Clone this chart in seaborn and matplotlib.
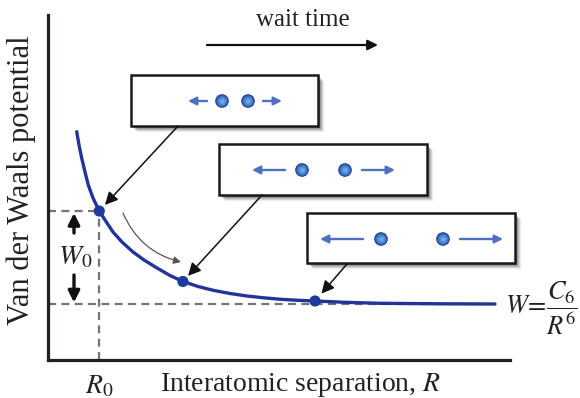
import numpy as np
import pandas as pd
import matplotlib
matplotlib.use("Agg")
import matplotlib.pyplot as plt
import matplotlib.colors as mcolors
from matplotlib.patches import Rectangle, Circle
import seaborn as sns

# ---- data (R, W in arbitrary units) ----
R_curve = [0.621, 0.671, 0.729, 0.801, 0.872, 0.974, 1.110, 1.234, 1.407, 1.602, 1.840,
           2.078, 2.359, 2.641, 2.922, 3.247, 3.571, 3.939, 4.307, 4.654, 5.022, 5.411,
           5.779, 6.429, 7.186, 8.485, 9.675]
W_curve = [3.446, 3.18, 2.92, 2.64, 2.38, 2.12, 1.86, 1.68, 1.44, 1.24, 1.04,
           0.88, 0.72, 0.57, 0.45, 0.35, 0.275, 0.21, 0.16, 0.125, 0.095, 0.074,
           0.06, 0.034, 0.014, 0.004, 0.0]
R_marked = [1.11, 2.92, 5.78]
W_marked = [1.86, 0.45, 0.06]
R0 = 1.11
W0 = 1.86
xlabel = "Interatomic separation, $R$"
ylabel = "Van der Waals potential"
time_label = "wait time"
formula = r"$W\!=\!\dfrac{C_6}{R^6}$"

sns.set_theme(style="white")
plt.rcParams["font.family"] = ["Liberation Serif", "DejaVu Serif"]
plt.rcParams["mathtext.fontset"] = "stix"

W_PX, H_PX = 580, 398
fig = plt.figure(figsize=(W_PX / 100, H_PX / 100), dpi=100)
fig.patch.set_facecolor("white")

ax = fig.add_axes([48 / W_PX, 1 - 360 / H_PX, (510 - 48) / W_PX, (360 - 15) / H_PX])
ax.set_xlim(0, 10)
ax.set_ylim(-1.12, 5.78)
ax.set_facecolor("none")
for s in ["top", "right"]:
    ax.spines[s].set_visible(False)
for s in ["left", "bottom"]:
    ax.spines[s].set_linewidth(2.3)
    ax.spines[s].set_color("#231f20")
ax.set_xticks([])
ax.set_yticks([])

dash = (0, (3.6, 2.4))
gray = "#767676"
ax.plot([0, 9.5], [0, 0], color=gray, lw=1.6, ls=dash, zorder=1)
ax.plot([0, R0], [W0, W0], color=gray, lw=1.6, ls=dash, zorder=1)
ax.plot([R0, R0], [-1.12, W0], color=gray, lw=1.6, ls=dash, zorder=1, clip_on=False)

curve = pd.DataFrame({"R": R_curve, "W": W_curve})
sns.lineplot(data=curve, x="R", y="W", ax=ax, color="#22349a", lw=2.4, zorder=3)
pts = pd.DataFrame({"R": R_marked, "W": W_marked})
sns.scatterplot(data=pts, x="R", y="W", ax=ax, color="#1f3a9e", s=65, edgecolor="none", zorder=4)
ax.set_xlabel("")
ax.set_ylabel("")

# W0 annotation
xa = (74 - 48) / 46.2
ax.annotate("", xy=(xa, W0 - 0.04), xytext=(xa, W0 - 0.44),
            arrowprops=dict(arrowstyle="-|>", lw=2.4, color="#111111", mutation_scale=17, shrinkA=0, shrinkB=0))
ax.annotate("", xy=(xa, 0.03), xytext=(xa, 0.58),
            arrowprops=dict(arrowstyle="-|>", lw=2.4, color="#111111", mutation_scale=17, shrinkA=0, shrinkB=0))
ax.text(xa + 0.03, 0.93, r"$W_0$", ha="center", va="center", fontsize=20, color="#222222")
ax.annotate(r"$R_0$", xy=(R0, 0), xycoords=("data", "axes fraction"), xytext=(0, -19),
            textcoords="offset points", ha="center", va="center", fontsize=20, color="#222222")

# labels
fig.text(301 / W_PX, 1 - 385 / H_PX, xlabel, ha="center", va="center", fontsize=20, color="#222222")
fig.text(21 / W_PX, 1 - 180 / H_PX, ylabel, ha="center", va="center", rotation=90, fontsize=22, color="#222222")

# overlay in pixel coords for the schematic parts
ov = fig.add_axes([0, 0, 1, 1], zorder=5)
ov.set_xlim(0, W_PX)
ov.set_ylim(H_PX, 0)
ov.axis("off")
ov.patch.set_alpha(0)

ov.text(303, 20, time_label, ha="center", va="center", fontsize=18, color="#222222")
ov.annotate("", xy=(378, 45), xytext=(207, 45),
            arrowprops=dict(arrowstyle="-|>", lw=1.6, color="#111111", mutation_scale=15, shrinkA=0, shrinkB=0))

boxes = [(131, 75, 318, 126), (219, 144, 427, 195), (307, 213, 515, 263)]
atoms = [((222, 248), 101), ((302, 345), 170), ((381, 443), 239)]
arrows = [((207, 188), (263, 282)), ((285, 252), (362, 395)), ((363, 320), (460, 503))]
tails = [(178, 126), (262, 195), (347, 264)]
blue_arrow = "#4f70c0"
c_dark = np.array(mcolors.to_rgb("#1a3a9a"))
c_light = np.array(mcolors.to_rgb("#6aaeea"))

for (x0, y0, x1, y1) in boxes:
    for off, a in [(6, 0.08), (5, 0.10), (4, 0.13), (3, 0.16), (2, 0.2)]:
        ov.add_patch(Rectangle((x0 + off, y0 + off), x1 - x0, y1 - y0, facecolor="#000000",
                               edgecolor="none", alpha=a, zorder=1))
    ov.add_patch(Rectangle((x0, y0), x1 - x0, y1 - y0, facecolor="white", edgecolor="#1a1a1a",
                           lw=1.8, zorder=2))

for (xs, y) in atoms:
    for x in xs:
        n = 10
        for k in range(n):
            t = k / (n - 1)
            col = c_dark * (1 - t ** 0.7) + c_light * t ** 0.7
            ov.add_patch(Circle((x + 0.5 * t, y + 0.5 * t), 6.8 * (1 - 0.8 * t), facecolor=col,
                                edgecolor="none", zorder=3 + k * 0.01))

for (l, r), (xs, y) in zip(arrows, atoms):
    for (a, b) in [l, r]:
        ov.annotate("", xy=(b, y), xytext=(a, y),
                    arrowprops=dict(arrowstyle="-|>", lw=1.7, color=blue_arrow, mutation_scale=12,
                                    shrinkA=0, shrinkB=0))

for (tx, ty), rx, wy, sb in zip(tails, R_marked, W_marked, [6, 5.5, 7]):
    ov.annotate("", xy=(rx, wy), xycoords=ax.transData, xytext=(tx, ty), textcoords="data",
                arrowprops=dict(arrowstyle="-|>", lw=1.1, color="#111111", mutation_scale=19,
                                shrinkA=0, shrinkB=sb))

ov.annotate("", xy=(181, 262), xytext=(123, 213),
            arrowprops=dict(arrowstyle="-|>", lw=0.9, color="#555555", mutation_scale=11,
                            shrinkA=0, shrinkB=0, connectionstyle="arc3,rad=0.25"))

ov.text(505, 309, formula, ha="left", va="center", fontsize=19, color="#222222")

fig.savefig("out.png", dpi=100)
